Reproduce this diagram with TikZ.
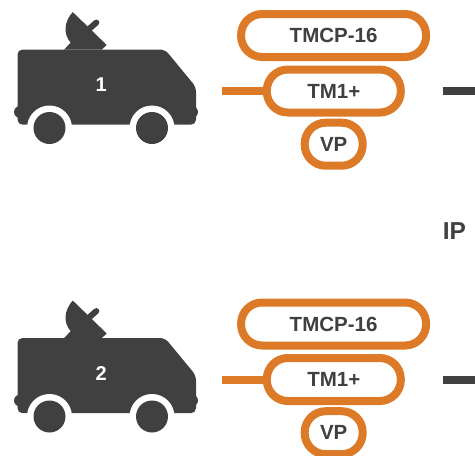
\documentclass[tikz,border=0pt]{standalone}
\usepackage{fontspec}
\setmainfont{Liberation Sans}
\definecolor{ink}{HTML}{404040}
\definecolor{amber}{HTML}{DC7A27}
\tikzset{
  lbl/.style={font=\fontsize{20.5}{24}\selectfont\bfseries,text=ink,inner sep=0pt},
  pill/.style={draw=amber,line width=8pt,rounded corners=21pt,fill=white,minimum height=43pt,inner sep=0pt,align=center,lbl},
  orangeline/.style={draw=amber,line width=8pt},
  darkline/.style={draw=ink,line width=8pt},
  vanbody/.style={fill=ink,draw=none},
  arch/.style={fill=white,draw=none},
  vannum/.style={font=\fontsize{20}{24}\selectfont\bfseries,text=white,inner sep=0pt},
  iplabel/.style={font=\fontsize{24.5}{28}\selectfont\bfseries,text=ink,inner sep=0pt}
}
\begin{document}
\begin{tikzpicture}[x=1pt,y=-1pt]
\useasboundingbox (0,0) rectangle (475,456);
\foreach \r/\oy in {1/0,2/288.5}{
\begin{scope}[yshift=-\oy pt]
  % van: dish
  \fill[vanbody] (72.7,12) .. controls (64,22) and (63,34) .. (70.7,42.7) -- (64,49.6) -- (101.7,49.6) -- (106.7,45) -- cycle;
  \draw[ink,line width=6pt,line cap=round] (89,29) -- (96.3,22.6);
  % van: body
  \fill[vanbody,rounded corners=5pt] (17.5,49.5) -- (165,49.5) -- (196,87) [sharp corners] -- (196,107) [rounded corners=5pt] -- (196,124.7) -- (17.5,124.7) -- cycle;
  \fill[vanbody] (20,112) circle (6) (192,112) circle (6);
  % van: wheels
  \fill[arch] (49.5,128) circle (22.5) (152,128) circle (22.5);
  \fill[vanbody] (49.5,128) circle (16) (152,128) circle (16);
  \node[vannum] (van\r) at (101.3,85) {\r};
  % pills
  \node[pill,minimum width=185pt] (tmcp\r) at (333.6,35.5) {TMCP-16};
  \node[pill,minimum width=134pt] (tm\r) at (333.8,91) {TM1+};
  \node[pill,minimum width=58pt] (vp\r) at (333.7,144.2) {VP};
  % connectors
  \coordinate (os\r) at (222.3,91);
  \coordinate (ds\r) at (442.7,91);
  \coordinate (de\r) at (475,91);
  \draw[orangeline] (os\r) -- (tm\r.west);
  \draw[darkline] (ds\r) -- (de\r);
\end{scope}
}
\node[iplabel] (ip) at (454.5,231.5) {IP};
\end{tikzpicture}
\end{document}
